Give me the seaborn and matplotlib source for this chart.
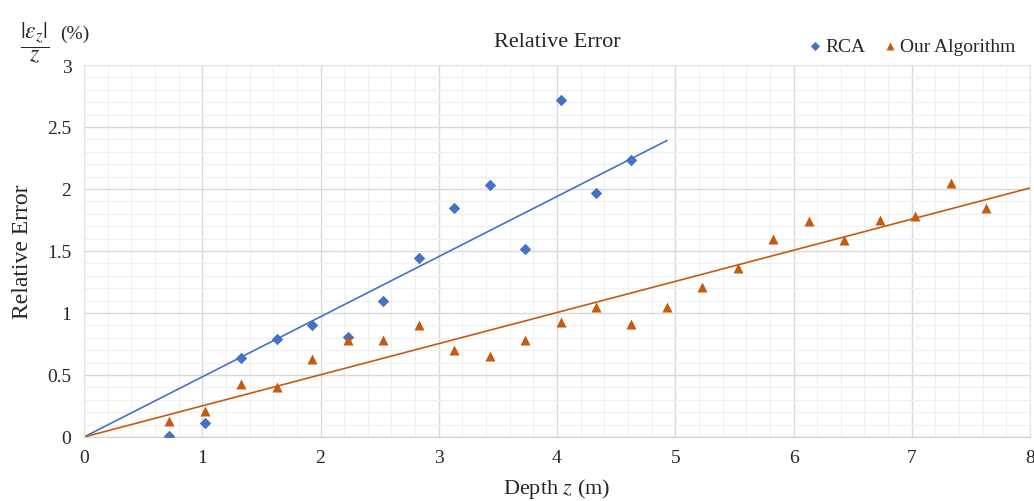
import numpy as np
import pandas as pd
import seaborn as sns
import matplotlib.pyplot as plt
from matplotlib.ticker import MultipleLocator

# data
rca_depth = [0.72, 1.02, 1.33, 1.63, 1.93, 2.23, 2.53, 2.83, 3.13, 3.43, 3.73, 4.03, 4.33, 4.63]
rca_error = [0.01, 0.11, 0.64, 0.79, 0.90, 0.81, 1.10, 1.44, 1.85, 2.03, 1.52, 2.72, 1.97, 2.23]

ours_depth = [0.72, 1.02, 1.33, 1.63, 1.93, 2.23, 2.53, 2.83, 3.13, 3.43, 3.73, 4.03,
              4.33, 4.63, 4.93, 5.23, 5.53, 5.83, 6.13, 6.43, 6.73, 7.03, 7.33, 7.63]
ours_error = [0.13, 0.21, 0.43, 0.40, 0.63, 0.78, 0.78, 0.90, 0.70, 0.65, 0.78, 0.93,
              1.05, 0.91, 1.05, 1.21, 1.36, 1.60, 1.74, 1.59, 1.75, 1.78, 2.05, 1.85]

labels = ["RCA", "Our Algorithm"]
colors = ["#4472C4", "#C55A11"]
markers = ["D", "^"]
# trendlines (through origin) as shown in the reference
trend_slope = [0.485, 0.251]
trend_end = [4.93, 8.0]

df = pd.concat([
    pd.DataFrame({"depth": rca_depth, "error": rca_error, "method": labels[0]}),
    pd.DataFrame({"depth": ours_depth, "error": ours_error, "method": labels[1]}),
])

sns.set_style("white")
plt.rcParams['font.family'] = ['Liberation Serif', 'DejaVu Serif']
plt.rcParams['mathtext.fontset'] = 'stix'

fig = plt.figure(figsize=(10.34, 5.02), dpi=100)
ax = fig.add_axes([84 / 1034, 64 / 502, 946 / 1034, 372 / 502])

for lab, c, m, sz in zip(labels, colors, markers, [34, 52]):
    sns.scatterplot(data=df[df.method == lab], x="depth", y="error", color=c, marker=m,
                    s=sz, linewidth=0, ax=ax, zorder=3, label=lab)

for c, k, xe in zip(colors, trend_slope, trend_end):
    xs = np.array([0, xe])
    ax.plot(xs, k * xs, color=c, lw=1.2, zorder=2)

ax.set_xlim(0, 8)
ax.set_ylim(0, 3)
ax.xaxis.set_major_locator(MultipleLocator(1))
ax.xaxis.set_minor_locator(MultipleLocator(0.2))
ax.yaxis.set_major_locator(MultipleLocator(0.5))
ax.yaxis.set_minor_locator(MultipleLocator(0.1))
ax.set_yticks(np.arange(0, 3.01, 0.5))
ax.set_yticklabels(["0", "0.5", "1", "1.5", "2", "2.5", "3"])
ax.grid(which="major", color="#d9d9d9", lw=1)
ax.grid(which="minor", color="#f0f0f0", lw=0.8)
ax.set_axisbelow(True)
ax.tick_params(which="both", length=0, labelsize=14, pad=9)
for s in ax.spines.values():
    s.set_color("#e6e6e6")
ax.spines["bottom"].set_color("#d0d0d0")

ax.set_xlabel("Depth $z$ (m)", fontsize=16, labelpad=7)
ax.set_ylabel("Relative Error", fontsize=17, labelpad=10)
ax.set_title("Relative Error", fontsize=16, pad=14)
fig.text(35 / 1034, 459 / 502, r"$\dfrac{|\epsilon_z|}{z}$", fontsize=17, ha="center", va="center")
fig.text(60 / 1034, 468 / 502, "(%)", fontsize=14, ha="left", va="center")

h, l = ax.get_legend_handles_labels()
ax.legend(h, l, loc="lower right", bbox_to_anchor=(0.995, 1.0), ncol=2, frameon=False,
          fontsize=14, handletextpad=0.0, columnspacing=0.8, handlelength=1.0,
          markerscale=0.8, borderaxespad=0.1)

fig.savefig("out.png", dpi=100)
